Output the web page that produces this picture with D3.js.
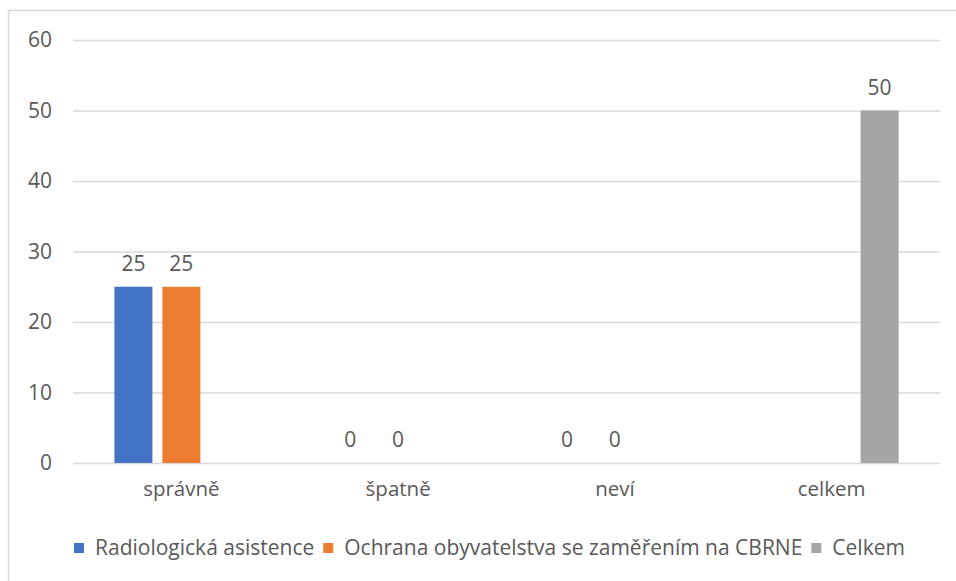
<!DOCTYPE html>
<html>
<head>
<meta charset="utf-8">
<script src="https://cdn.jsdelivr.net/npm/d3@7"></script>
<style>
  html, body { margin: 0; padding: 0; background: #fff; }
  svg { display: block; font-family: "Open Sans", "Noto Sans", sans-serif; }
</style>
</head>
<body>
<svg id="chart" width="956" height="581"></svg>
<script>
// Answer categories along the x axis
const categories = ["správně", "špatně", "neví", "celkem"];
// Series names, in legend order
const seriesNames = ["Radiologická asistence", "Ochrana obyvatelstva se zaměřením na CBRNE", "Celkem"];
// Counts per series for each category (null = no bar)
const radiologicka = [25, 0, 0, null];
const ochrana = [25, 0, 0, null];
const celkem = [null, null, null, 50];
const yTicks = [0, 10, 20, 30, 40, 50, 60];
const colors = ["#4472C4", "#ED7D31", "#A5A5A5"];

const seriesValues = [radiologicka, ochrana, celkem];

const svg = d3.select("#chart");
const W = 956, H = 581;
const plot = { left: 73, right: 940, top: 40, bottom: 463 };
const textColor = "#595959";
const gridColor = "#D9D9D9";

// Outer chart frame
svg.append("rect")
  .attr("x", 8.5).attr("y", 10.5)
  .attr("width", W).attr("height", H)
  .attr("fill", "#fff").attr("stroke", gridColor).attr("stroke-width", 1.5);

const x0 = d3.scaleBand()
  .domain(categories)
  .range([plot.left, plot.right])
  .paddingInner(0.382)
  .paddingOuter(0.191);

const x1 = d3.scaleBand()
  .domain(seriesNames)
  .range([0, x0.bandwidth()])
  .paddingInner(0.208)
  .paddingOuter(0);

const y = d3.scaleLinear().domain([0, 60]).range([plot.bottom, plot.top]);

// Horizontal gridlines and y tick labels
const yAxis = d3.axisLeft(y).tickValues(yTicks).tickSize(-(plot.right - plot.left)).tickPadding(21);
const gy = svg.append("g").attr("transform", `translate(${plot.left},0)`).call(yAxis);
gy.select(".domain").remove();
gy.selectAll(".tick line").attr("stroke", gridColor).attr("stroke-width", 1.5);
gy.selectAll(".tick text")
  .attr("fill", textColor)
  .style("font-size", "21px")
  .style("font-family", "'Open Sans', sans-serif");

// Category labels
const xAxis = d3.axisBottom(x0).tickSize(0).tickPadding(18);
const gx = svg.append("g").attr("transform", `translate(0,${plot.bottom})`).call(xAxis);
gx.select(".domain").remove();
gx.selectAll(".tick text")
  .attr("fill", textColor)
  .style("font-size", "20.5px")
  .style("font-family", "'Open Sans', sans-serif");

// Bars and value labels
const rows = [];
categories.forEach((c, ci) => {
  seriesNames.forEach((s, si) => {
    const v = seriesValues[si][ci];
    if (v !== null) rows.push({ c, s, si, v });
  });
});

svg.append("g").selectAll("rect")
  .data(rows.filter(d => d.v > 0))
  .join("rect")
  .attr("x", d => x0(d.c) + x1(d.s))
  .attr("y", d => y(d.v))
  .attr("width", x1.bandwidth())
  .attr("height", d => y(0) - y(d.v))
  .attr("fill", d => colors[d.si]);

svg.append("g").selectAll("text")
  .data(rows)
  .join("text")
  .attr("x", d => x0(d.c) + x1(d.s) + x1.bandwidth() / 2)
  .attr("y", d => y(d.v) - 16)
  .attr("text-anchor", "middle")
  .attr("fill", textColor)
  .style("font-size", "21px")
  .text(d => d.v);

// Legend
const legend = svg.append("g").attr("transform", "translate(0,555)");
let lx = 74;
seriesNames.forEach((name, i) => {
  legend.append("rect")
    .attr("x", lx).attr("y", -12)
    .attr("width", 10).attr("height", 10)
    .attr("fill", colors[i]);
  const t = legend.append("text")
    .attr("x", lx + 21).attr("y", 0)
    .attr("fill", textColor)
    .style("font-size", "21px")
    .text(name);
  lx += 21 + t.node().getComputedTextLength() + 9;
});
</script>
</body>
</html>
